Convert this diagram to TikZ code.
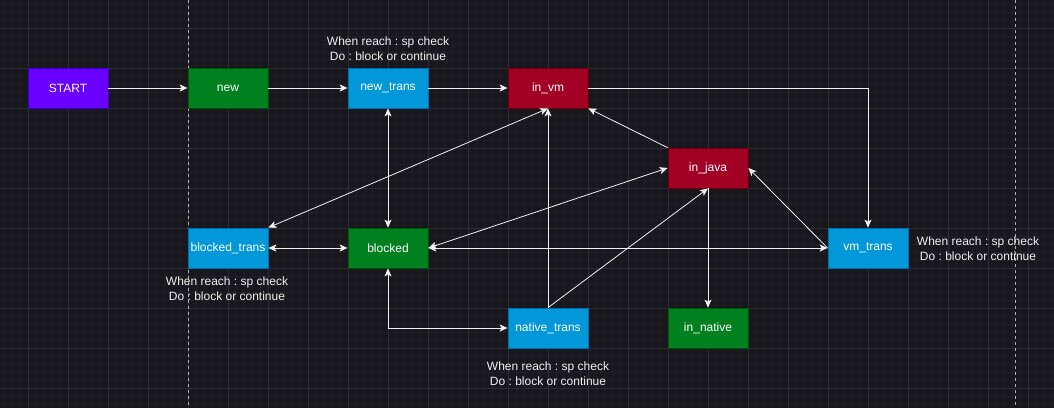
\documentclass[tikz,border=0pt]{standalone}
\usepackage{fontspec}
\setmainfont{Liberation Sans}
\usetikzlibrary{arrows.meta}
\definecolor{bgcol}{HTML}{18171D}
\definecolor{minorcol}{HTML}{201F25}
\definecolor{majorcol}{HTML}{2E2D33}
\definecolor{edgecol}{HTML}{F0F0F0}
\definecolor{startfill}{HTML}{6A00FF}
\definecolor{startline}{HTML}{3700CC}
\definecolor{greenfill}{HTML}{00801E}
\definecolor{greenline}{HTML}{005700}
\definecolor{bluefill}{HTML}{0098D8}
\definecolor{blueline}{HTML}{006EAF}
\definecolor{redfill}{HTML}{A20025}
\definecolor{redline}{HTML}{6F0000}
\frenchspacing
\begin{document}
\begin{tikzpicture}[x=1pt, y=-1pt]
      \tikzstyle{state}=[rectangle, minimum width=80pt, minimum height=40pt, inner sep=0pt,
        line width=0.8pt, text=white, font=\fontsize{12pt}{14pt}\selectfont]
      \tikzstyle{startbox}=[state, fill=startfill, draw=startline]
      \tikzstyle{greenbox}=[state, fill=greenfill, draw=greenline]
      \tikzstyle{bluebox}=[state, fill=bluefill, draw=blueline]
      \tikzstyle{redbox}=[state, fill=redfill, draw=redline]
      \tikzstyle{note}=[align=center, inner sep=0pt, text=edgecol,
        font=\fontsize{12pt}{15pt}\selectfont]
      \tikzstyle{edge}=[draw=edgecol, line width=0.8pt,
        >={Stealth[length=8pt, width=7pt, inset=2pt]}]

      \useasboundingbox (0,0) rectangle (1054,408);
      \fill [bgcol] (0,0) rectangle (1054,408);

      % grid
      \foreach \x in {4,12,...,1052}
      {
        \draw [minorcol, line width=0.6pt] (\x,0) -- (\x,408);
      }
      \foreach \y in {4,12,...,404}
      {
        \draw [minorcol, line width=0.6pt] (0,\y) -- (1054,\y);
      }
      \foreach \x in {28,68,...,1028}
      {
        \draw [majorcol, line width=0.8pt] (\x,0) -- (\x,408);
      }
      \foreach \y in {28,68,...,388}
      {
        \draw [majorcol, line width=0.8pt] (0,\y) -- (1054,\y);
      }
      \foreach \x in {188.7, 1015.7}
      {
        \draw [gray!60, line width=0.8pt, dash pattern=on 3pt off 3pt] (\x,0) -- (\x,408);
      }

      % states
      \path (68,88) node [startbox] (start) {START};
      \path (228,88) node [greenbox] (new) {new};
      \path (388,88) node [bluebox] (newtrans) {new\_trans};
      \path (548,88) node [redbox] (invm) {in\_vm};
      \path (708,168) node [redbox] (injava) {in\_java};
      \path (868,248) node [bluebox] (vmtrans) {vm\_trans};
      \path (228,248) node [bluebox] (blockedtrans) {blocked\_trans};
      \path (388,248) node [greenbox] (blocked) {blocked};
      \path (548,328) node [bluebox] (nativetrans) {native\_trans};
      \path (708,328) node [greenbox] (innative) {in\_native};

      % notes
      \path (388,48.5) node [note] (newtransnote) {When reach : sp check\\Do : block or continue};
      \path (227,288.5) node [note] (blockedtransnote) {When reach : sp check\\Do : block or continue};
      \path (548,373.5) node [note] (nativetransnote) {When reach : sp check\\Do : block or continue};
      \path (978,248.5) node [note] (vmtransnote) {When reach : sp check\\Do : block or continue};

      \draw [edge, ->] (start) -- (new);
      \draw [edge, ->] (new) -- (newtrans);
      \draw [edge, ->] (newtrans) -- (invm);
      \draw [edge, ->] (invm.east) -| (vmtrans.north);
      \draw [edge, <->] (newtrans) -- (blocked);
      \draw [edge, <->] (blockedtrans) -- (blocked);
      \draw [edge, <->] (blockedtrans.north east) -- (invm.south);
      \draw [edge, <->] (blocked.east) -- (injava.west);
      \draw [edge, <->] (blocked.east) -- (vmtrans.west);
      \draw [edge, <->] (nativetrans.west) -| (blocked.south);
      \draw [edge, ->] (nativetrans.north) -- (invm.south);
      \draw [edge, ->] (nativetrans.north) -- (injava.south);
      \draw [edge, ->] (injava.north west) -- (invm.south east);
      \draw [edge, ->] (injava.south) -- (innative.north);
      \draw [edge, ->] (vmtrans.west) -- (injava.east);
    \end{tikzpicture}
\end{document}
